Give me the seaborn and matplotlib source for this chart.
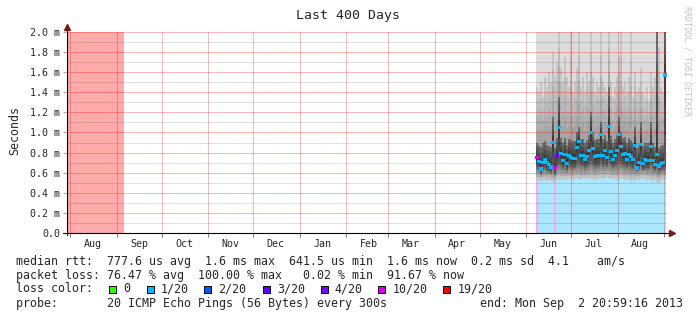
import numpy as np
import pandas as pd
import matplotlib
matplotlib.use("Agg")
import matplotlib.pyplot as plt
import matplotlib.dates as mdates
from matplotlib.ticker import MultipleLocator, FuncFormatter
from matplotlib.patches import Rectangle
import seaborn as sns

# ---------------- data ----------------
graph_end = "2013-09-02 20:59:16"
graph_days = 400
first_sample = "2013-06-08 00:00"
sample_step = "32h"

# full-loss period (19/20) at the start of the window
full_loss_period = ["2012-07-29 21:00", "2012-09-05 21:00"]

# median rtt (ms) per sample
median = [0.75, 0.71, 0.64, 0.70, 0.73, 0.70, 0.68, 0.66, 0.90, 0.65,
          0.77, 1.05, 0.79, 0.72, 0.78, 0.69, 0.77, 0.75, 0.74, 0.74,
          0.85, 0.91, 0.77, 0.77, 0.73, 0.76, 0.82, 1.00, 0.84, 0.76,
          0.77, 0.77, 0.98, 0.77, 0.82, 0.75, 1.06, 0.81, 0.73, 0.77,
          0.82, 0.98, 0.86, 0.78, 0.79, 0.73, 0.78, 0.76, 0.73, 0.87,
          0.65, 0.70, 0.88, 0.69, 0.73, 0.72, 0.72, 0.86, 0.72, 0.68,
          0.78, 0.67, 0.69, 0.70, 1.57]
# lost pings out of 20 per sample
loss_count = [10, 1, 1, 1, 1, 1, 1, 1, 1, 10,
              4, 1, 1, 1, 1, 1, 1, 1, 1, 1,
              1, 1, 1, 1, 1, 1, 1, 1, 1, 1,
              1, 1, 1, 1, 1, 1, 1, 1, 1, 1,
              1, 1, 1, 1, 1, 1, 1, 1, 1, 1,
              1, 1, 1, 1, 1, 1, 1, 1, 1, 1,
              1, 1, 1, 1, 1]
# smoke percentiles (ms)
ping_min = [0.53, 0.53, 0.52, 0.53, 0.53, 0.52, 0.53, 0.52, 0.51, 0.50,
            0.53, 0.54, 0.53, 0.54, 0.53, 0.54, 0.55, 0.54, 0.53, 0.54,
            0.55, 0.54, 0.53, 0.55, 0.54, 0.55, 0.54, 0.55, 0.54, 0.53,
            0.54, 0.55, 0.55, 0.54, 0.55, 0.56, 0.55, 0.54, 0.55, 0.54,
            0.53, 0.54, 0.55, 0.54, 0.53, 0.54, 0.53, 0.52, 0.53, 0.52,
            0.54, 0.53, 0.54, 0.55, 0.54, 0.53, 0.54, 0.53, 0.52, 0.53,
            0.51, 0.50, 0.52, 0.53, 0.53]
ping_p10 = [0.59, 0.59, 0.57, 0.59, 0.60, 0.58, 0.59, 0.58, 0.58, 0.56,
            0.60, 0.61, 0.60, 0.60, 0.60, 0.60, 0.61, 0.60, 0.60, 0.61,
            0.61, 0.61, 0.60, 0.61, 0.60, 0.61, 0.61, 0.62, 0.61, 0.60,
            0.61, 0.61, 0.62, 0.61, 0.61, 0.62, 0.62, 0.61, 0.61, 0.61,
            0.60, 0.61, 0.62, 0.61, 0.60, 0.61, 0.60, 0.59, 0.60, 0.59,
            0.60, 0.60, 0.61, 0.61, 0.61, 0.60, 0.60, 0.60, 0.59, 0.60,
            0.58, 0.57, 0.59, 0.60, 0.60]
ping_p25 = [0.66, 0.64, 0.60, 0.63, 0.65, 0.63, 0.62, 0.61, 0.66, 0.59,
            0.67, 0.70, 0.68, 0.65, 0.68, 0.63, 0.68, 0.67, 0.66, 0.66,
            0.70, 0.71, 0.68, 0.68, 0.66, 0.67, 0.70, 0.72, 0.70, 0.67,
            0.68, 0.68, 0.72, 0.68, 0.70, 0.67, 0.73, 0.69, 0.66, 0.68,
            0.69, 0.72, 0.70, 0.68, 0.68, 0.66, 0.68, 0.67, 0.65, 0.70,
            0.62, 0.64, 0.70, 0.63, 0.65, 0.65, 0.65, 0.70, 0.65, 0.63,
            0.67, 0.62, 0.63, 0.64, 0.66]
ping_p75 = [0.90, 0.88, 0.86, 0.90, 0.92, 0.88, 0.87, 0.86, 1.15, 0.85,
            0.95, 1.35, 0.95, 0.90, 0.95, 0.88, 0.94, 0.93, 0.92, 0.92,
            1.00, 1.05, 0.94, 0.94, 0.90, 0.93, 0.98, 1.20, 1.00, 0.93,
            0.94, 0.94, 1.10, 0.94, 0.98, 0.92, 1.45, 0.97, 0.90, 0.94,
            0.98, 1.15, 1.00, 0.95, 0.96, 0.90, 0.95, 0.93, 0.90, 1.05,
            0.85, 0.88, 1.10, 0.87, 0.90, 0.90, 0.90, 1.10, 0.90, 0.86,
            2.00, 0.85, 0.87, 0.88, 2.00]
ping_p90 = [1.45, 1.40, 1.50, 1.35, 1.55, 1.45, 1.60, 1.50, 1.80, 1.55,
            1.70, 2.00, 1.65, 1.50, 1.75, 1.55, 1.45, 2.00, 1.40, 1.50,
            1.65, 2.00, 1.45, 1.55, 1.40, 1.60, 1.50, 2.00, 1.55, 1.40,
            1.50, 1.45, 2.00, 1.50, 1.45, 1.40, 2.00, 1.50, 1.35, 1.45,
            1.55, 1.75, 2.00, 1.45, 1.50, 1.40, 1.55, 2.00, 1.35, 1.60,
            1.40, 1.45, 1.65, 1.40, 1.35, 1.45, 1.30, 1.60, 1.45, 1.55,
            2.00, 1.85, 1.45, 1.40, 2.00]

y_max = 2.0
y_tick_labels = ["0.0", "0.2 m", "0.4 m", "0.6 m", "0.8 m", "1.0 m",
                 "1.2 m", "1.4 m", "1.6 m", "1.8 m", "2.0 m"]

loss_steps = [0, 1, 2, 3, 4, 10, 19]
loss_names = ["0", "1/20", "2/20", "3/20", "4/20", "10/20", "19/20"]
loss_colors = ["#26ff00", "#00b8ff", "#0059ff", "#5e00ff", "#7e00ff", "#dd00ff", "#ff0000"]

stats_lines = [
    "median rtt:  777.6 us avg  1.6 ms max  641.5 us min  1.6 ms now  0.2 ms sd  4.1    am/s",
    "packet loss: 76.47 % avg  100.00 % max   0.02 % min  91.67 % now",
]
probe_line = "probe:       20 ICMP Echo Pings (56 Bytes) every 300s"
end_line = "end: Mon Sep  2 20:59:16 2013"

# ---------------- styling ----------------
sns.set_theme(style="white")
plt.rcParams['font.family'] = ['DejaVu Sans Mono']

W, H = 697, 321
fig = plt.figure(figsize=(W / 100, H / 100), dpi=100)
fig.patch.set_facecolor("white")
ax = fig.add_axes([67 / W, 1 - 233 / H, 600 / W, 201 / H])
ax.set_facecolor("white")


def light(c, a=0.33):
    rgb = np.array(matplotlib.colors.to_rgb(c))
    return tuple(1 - a * (1 - rgb))


loss_color_of = dict(zip(loss_steps, loss_colors))

t_end = pd.Timestamp(graph_end)
t_start = t_end - pd.Timedelta(days=graph_days)
times = pd.date_range(first_sample, periods=len(median), freq=sample_step)
step_days = pd.Timedelta(sample_step) / pd.Timedelta(days=1)
bw = step_days * 1.02

# full loss period
fl = pd.to_datetime(full_loss_period)
ax.fill_between(fl, 0, y_max, color=light(loss_color_of[19]), lw=0, zorder=1)

# loss-coloured area below the smoke
ax.bar(times, ping_min, width=bw,
       color=[light(loss_color_of[c]) if c >= 10 else light(loss_color_of[1]) for c in loss_count],
       lw=0, zorder=1)

# smoke layers (shaded in sub-steps between the percentile arrays)
mn = np.array(ping_min); p10 = np.array(ping_p10); p25 = np.array(ping_p25)
md = np.array(median); p75 = np.array(ping_p75); p90 = np.array(ping_p90)


def shade(lo, hi, c_lo, c_hi, n):
    for k in range(n):
        a, b = k / n, (k + 1) / n
        bot = lo + (hi - lo) * a
        top = lo + (hi - lo) * b
        g = c_lo + (c_hi - c_lo) * (k + 0.5) / n
        ax.bar(times, top - bot, bottom=bot, width=bw, color=(g, g, g), lw=0, zorder=1.1)


ax.bar(times, y_max - p90, bottom=p90, width=bw, color="#dcdcdc", lw=0, zorder=1.1)
shade(p75, p90, 0.62, 0.80, 4)
shade(md, p75, 0.20, 0.45, 4)
shade(p25, md, 0.38, 0.20, 3)
shade(p10, p25, 0.62, 0.40, 3)
shade(mn, p10, 0.80, 0.64, 2)

# median points coloured by loss
df = pd.DataFrame({"time": times, "median": median,
                   "loss": [str(c) for c in loss_count]})
pal = {str(k): v for k, v in loss_color_of.items()}
sns.scatterplot(data=df, x="time", y="median", hue="loss", palette=pal,
                marker="s", s=7, linewidth=0, legend=False, ax=ax, zorder=4)

# axes / grid
ax.set_xlim(t_start, t_end)
ax.set_ylim(0, y_max)
ax.set_xlabel("")
ax.set_ylabel("")
ax.set_axisbelow(False)
ax.yaxis.set_major_locator(MultipleLocator(0.2))
ax.yaxis.set_minor_locator(MultipleLocator(0.1))
ax.yaxis.set_major_formatter(FuncFormatter(
    lambda v, p: y_tick_labels[int(round(v / 0.2))] if 0 <= int(round(v / 0.2)) < len(y_tick_labels) else ""))
ax.xaxis.set_minor_locator(mdates.MonthLocator(bymonthday=1))
ax.xaxis.set_major_locator(mdates.MonthLocator(bymonthday=16))
ax.xaxis.set_major_formatter(mdates.DateFormatter("%b"))

ax.grid(which="minor", axis="y", color="black", alpha=0.12, lw=0.75)
ax.grid(which="major", axis="y", color="red", alpha=0.28, lw=0.75)
ax.grid(which="minor", axis="x", color="red", alpha=0.28, lw=0.75)
ax.xaxis.grid(False, which="major")

ax.tick_params(axis="y", which="major", length=3, width=0.7, color="#aaaaaa",
               labelsize=7.2, pad=2, left=True)
ax.tick_params(axis="y", which="minor", length=0)
ax.tick_params(axis="x", which="major", length=0, labelsize=7.2, pad=4)
ax.tick_params(axis="x", which="minor", length=3, width=0.7, color="#777777",
               direction="out", bottom=True)
for lab in ax.get_xticklabels() + ax.get_yticklabels():
    lab.set_fontfamily("DejaVu Sans Mono")

for s in ax.spines.values():
    s.set_visible(False)
ax.plot([0, 0], [-0.012, 1.02], transform=ax.transAxes, color="black", lw=0.8,
        clip_on=False, zorder=5)
ax.plot([-0.006, 1.005], [0, 0], transform=ax.transAxes, color="black", lw=0.8,
        clip_on=False, zorder=5)
ax.plot([0], [1.025], transform=ax.transAxes, marker="^", ms=4, color="#7a1a1a",
        clip_on=False, zorder=6)
ax.plot([1.009], [0], transform=ax.transAxes, marker=">", ms=4, color="#7a1a1a",
        clip_on=False, zorder=6)

# texts
fs = 8.4
fig.text(348 / W, 1 - 16 / H, "Last 400 Days", ha="center", va="center", fontsize=9.5)
fig.text(15 / W, 1 - 130 / H, "Seconds", rotation=90, ha="center", va="center", fontsize=fs)
fig.text(687 / W, 1 - 6 / H, "RRDTOOL / TOBI OETIKER", rotation=270, ha="center",
         va="top", fontsize=6, color="#c4c4c4")

fig.text(15.5 / W, 1 - 261 / H, stats_lines[0], ha="left", va="center", fontsize=fs)
fig.text(15.5 / W, 1 - 275 / H, stats_lines[1], ha="left", va="center", fontsize=fs)
fig.text(15.5 / W, 1 - 289 / H, "loss color:", ha="left", va="center", fontsize=fs)
fig.text(15.5 / W, 1 - 303 / H, probe_line, ha="left", va="center", fontsize=fs)
fig.text(479.5 / W, 1 - 303 / H, end_line, ha="left", va="center", fontsize=fs)

box_x = [109, 146.7, 204, 263, 320.7, 378.3, 443.3]
for bx, name, col in zip(box_x, loss_names, loss_colors):
    fig.add_artist(Rectangle((bx / W, 1 - 293 / H), 7 / W, 7 / H,
                             transform=fig.transFigure, facecolor=col,
                             edgecolor="black", lw=0.7))
    fig.text((bx + 14) / W, 1 - 289 / H, name, ha="left", va="center", fontsize=fs)

fig.savefig("out.png", dpi=100, facecolor="white")
